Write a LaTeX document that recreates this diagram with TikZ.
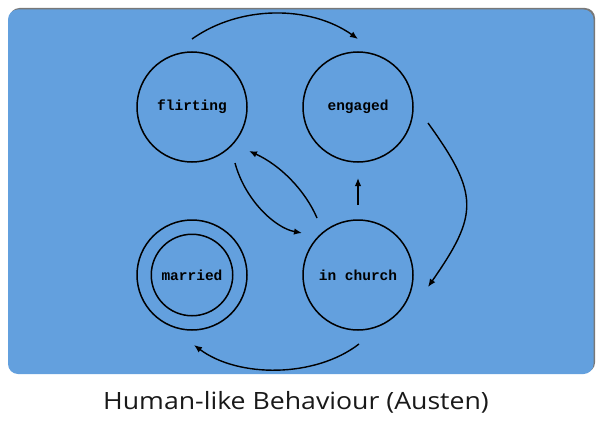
\documentclass[tikz,border=0pt]{standalone}
\usepackage{fontspec}
\setmainfont{Open Sans}
\newfontfamily\statefont{Liberation Mono}
\usetikzlibrary{arrows.meta,calc}
\definecolor{bgblue}{RGB}{99,160,222}
\definecolor{shadowgray}{RGB}{120,120,120}
\definecolor{captext}{RGB}{25,25,25}
\tikzset{
  state/.style={circle,draw=black,line width=1.5pt,minimum size=110pt,inner sep=0pt,
    font=\statefont\bfseries\fontsize{14.5}{16}\selectfont},
  trans/.style={line width=1.4pt,-{Latex[length=8pt,width=6.5pt]}},
}
\begin{document}
\begin{tikzpicture}[x=1pt,y=-1pt]
\useasboundingbox (0,0) rectangle (602,428);
% panel
\fill[shadowgray,rounded corners=10pt] (9.5,8) rectangle (595,372.5);
\fill[bgblue,rounded corners=10pt] (8,9.5) rectangle (593.5,374);
% states
\node[state] (fl) at (192,107) {flirting};
\node[state] (en) at (358,107) {engaged};
\node[state] (ma) at (192,275) {};
\node[state,minimum size=81.5pt] (mi) at (192,275) {married};
\node[state] (ch) at (358,275) {in church};
% connector end points
\coordinate (t0) at ($(fl.center)+(0,-68)$);
\coordinate (t1) at ($(en.center)+(0,-68)$);
\coordinate (r0) at ($(en.center)+(70,16)$);
\coordinate (r1) at ($(ch.center)+(70,12)$);
\coordinate (b0) at ($(ch.center)+(1,69)$);
\coordinate (b1) at ($(ma.center)+(2,70)$);
\coordinate (d0) at ($(fl.center)+(43,56)$);
\coordinate (d1) at ($(ch.center)+(-56,-42)$);
\coordinate (u0) at ($(ch.center)+(-41,-57)$);
\coordinate (u1) at ($(fl.center)+(57,44)$);
\coordinate (v0) at ($(ch.center)+(0,-70)$);
\coordinate (v1) at ($(en.center)+(0,71)$);
% transitions
\draw[trans] (t0) .. controls (240,5) and (310,5) .. (t1);
\draw[trans] (r0) .. controls (480,195) and (478,215) .. (r1);
\draw[trans] (b0) .. controls (315,378) and (238,378) .. (b1);
\draw[trans] (d0) .. controls (245,200) and (275,228) .. (d1);
\draw[trans] (u0) .. controls (305,190) and (280,165) .. (u1);
\draw[trans] (v0) -- (v1);
% caption
\node[anchor=base,text=captext,font=\fontsize{23.8}{28}\selectfont,inner sep=0pt] (cap) at (296,409.3) {\scalebox{1.12}[1]{Human-like Behaviour (Austen)}};
\end{tikzpicture}
\end{document}
